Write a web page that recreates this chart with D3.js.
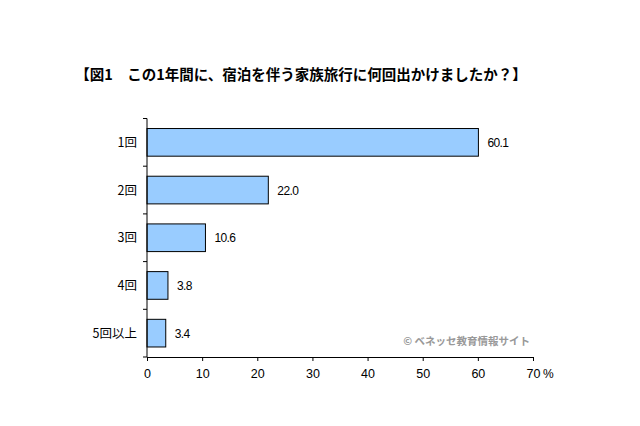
<!DOCTYPE html>
<html><head><meta charset="utf-8">
<script src="https://cdn.jsdelivr.net/npm/d3@7"></script>
<style>body{margin:0;background:#fff;} svg{display:block;}</style>
</head><body>
<script>
const categories = ["1回","2回","3回","4回","5回以上"];
const values = [60.1, 22.0, 10.6, 3.8, 3.4];
const ticks = [0,10,20,30,40,50,60,70];
const title = "【図1　この1年間に、宿泊を伴う家族旅行に何回出かけましたか？】";
const credit = "© ベネッセ教育情報サイト";

const W = 640, H = 426;
const svg = d3.select("body").append("svg").attr("width", W).attr("height", H);
const font = "'Noto Sans CJK JP', 'DejaVu Sans', sans-serif";
const lat = "'Liberation Sans', Arial, sans-serif";

const x = d3.scaleLinear().domain([0,70]).range([147, 533]);
const y = d3.scaleBand().domain(categories).range([118.5, 357]).paddingInner(0.42).paddingOuter(0.21);

svg.append("text").attr("x", 301).attr("y", 80).attr("text-anchor","middle")
  .attr("font-family", font).attr("font-weight","bold").attr("font-size", 14.5)
  .attr("fill","#000").text(title);

svg.append("g").selectAll("rect").data(values).join("rect")
  .attr("x", x(0)).attr("y", (d,i)=>y(categories[i]))
  .attr("width", d=>x(d)-x(0)).attr("height", y.bandwidth())
  .attr("fill","#99ccff").attr("stroke","#000").attr("stroke-width",1);

svg.append("g").selectAll("text").data(values).join("text")
  .attr("x", d=>x(d)+9).attr("y", (d,i)=>y(categories[i])+y.bandwidth()/2+4.5)
  .attr("font-family",lat).attr("font-size",12).attr("letter-spacing","-0.6")
  .text(d=>d.toFixed(1));

// y axis
const yg = svg.append("g");
yg.append("line").attr("x1",147).attr("x2",147).attr("y1",118.5).attr("y2",357).attr("stroke","#000");
const bounds = d3.range(categories.length+1).map(i=>118.5 + i*(357-118.5)/categories.length);
yg.selectAll("line.t").data(bounds).join("line").attr("class","t")
  .attr("x1",143).attr("x2",147).attr("y1",d=>d).attr("y2",d=>d).attr("stroke","#000");
yg.selectAll("text").data(categories).join("text")
  .attr("x",137).attr("y",d=>y(d)+y.bandwidth()/2+4.5).attr("text-anchor","end")
  .attr("font-family",font).attr("font-size",12.5).text(d=>d);

// x axis
const xg = svg.append("g").attr("transform","translate(0,357)")
  .call(d3.axisBottom(x).tickValues(ticks).tickSize(4).tickPadding(8).tickFormat(d3.format("d")));
xg.select(".domain").attr("stroke","#000");
xg.selectAll(".tick line").attr("stroke","#000");
xg.selectAll("text").attr("font-family",lat).attr("font-size",12.5).attr("fill","#000");
svg.append("text").attr("x",543).attr("y",378).attr("font-family",lat)
  .attr("font-size",12).text("%");

svg.append("text").attr("x",530).attr("y",345).attr("text-anchor","end")
  .attr("font-family",font).attr("font-size",10.5).attr("font-weight","bold").attr("fill","#999").text(credit);
</script>
</body></html>
